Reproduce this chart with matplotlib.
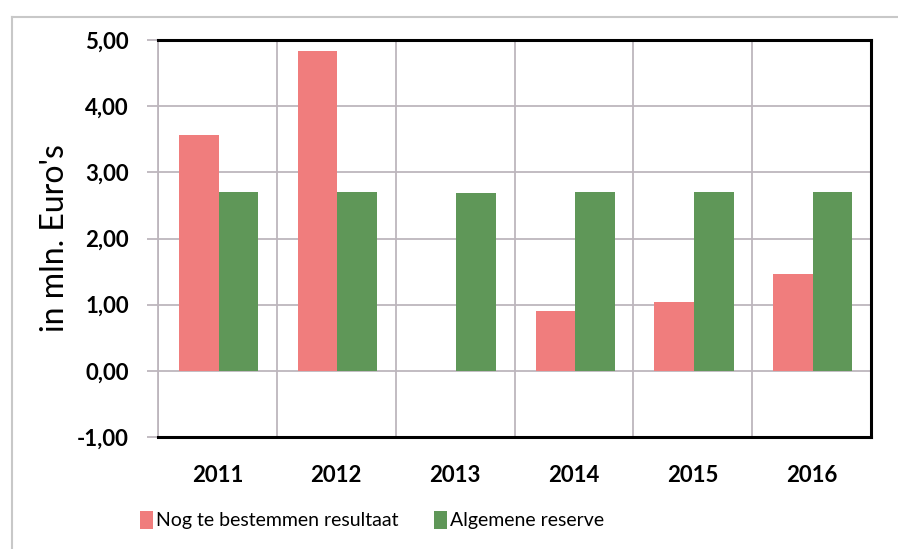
import matplotlib.pyplot as plt
import numpy as np
from matplotlib.lines import Line2D

# Data
years = ['2011', '2012', '2013', '2014', '2015', '2016']
nog_te_bestemmen = [3.57, 4.83, 0.0, 0.90, 1.04, 1.46]
algemene_reserve = [2.70, 2.70, 2.69, 2.70, 2.70, 2.70]
y_ticks = [-1, 0, 1, 2, 3, 4, 5]
y_tick_labels = ['-1,00', '0,00', '1,00', '2,00', '3,00', '4,00', '5,00']

red = '#f07d7d'
green = '#5f9758'
grid_col = '#bdb6bd'

plt.rcParams['font.family'] = ['Lato', 'DejaVu Sans']

fig = plt.figure(figsize=(8.98, 5.49), dpi=100)
ax = fig.add_axes([158 / 898, 1 - 437 / 549, (871 - 158) / 898, (437 - 40) / 549])

x = np.arange(len(years))
w = 0.333
ax.bar(x - w / 2 + 0.01, nog_te_bestemmen, width=w, color=red, zorder=3,
       label='Nog te bestemmen resultaat')
ax.bar(x + w / 2 + 0.01, algemene_reserve, width=w, color=green, zorder=3,
       label='Algemene reserve')

ax.set_xlim(-0.5, len(years) - 0.5)
ax.set_ylim(-1, 5)
ax.set_yticks(y_ticks)
ax.set_yticklabels(y_tick_labels, fontsize=16, fontweight='bold')
ax.set_xticks(x)
ax.set_xticklabels(years, fontsize=16, fontweight='bold')

# gridlines: horizontal at ticks, vertical at category boundaries
for yv in y_ticks:
    ax.axhline(yv, color=grid_col, lw=1.3, zorder=1)
for xv in np.arange(-0.5, len(years), 1.0):
    ax.axvline(xv, color=grid_col, lw=1.3, zorder=1)

ax.tick_params(axis='x', length=0, pad=20)
ax.tick_params(axis='y', length=8, width=1.3, color=grid_col, pad=13)

for side in ['top', 'right', 'bottom']:
    ax.spines[side].set_color('black')
    ax.spines[side].set_linewidth(2.2)
    ax.spines[side].set_zorder(4)
ax.spines['left'].set_color(grid_col)
ax.spines['left'].set_linewidth(1.3)

ax.set_ylabel("in mln. Euro's", fontsize=23, labelpad=5)

fig.legend(loc='center', bbox_to_anchor=(372 / 898, 1 - 520 / 549), ncol=2,
           frameon=False, fontsize=14,
           handlelength=0.7, handleheight=1.1,
           handletextpad=0.15, columnspacing=1.8)

# outer chart border (left and top visible)
fig.add_artist(Line2D([12 / 898, 12 / 898], [0, 1 - 17 / 549], color='#c8c8c8', lw=1.5))
fig.add_artist(Line2D([12 / 898, 1], [1 - 17 / 549, 1 - 17 / 549], color='#c8c8c8', lw=1.5))

fig.savefig('out.png', dpi=100)
